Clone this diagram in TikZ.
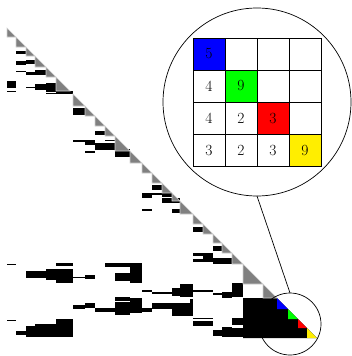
\documentclass[tikz,border=0pt]{standalone}
\usepackage{tikz}
\definecolor{ZoomYellow}{RGB}{255,238,0}

\begin{document}
\begin{tikzpicture}[x=1pt, y=-1pt,
    blk/.style={fill=black},
    diag/.style={fill=gray, draw=gray!35, line width=0.6pt},
    cell/.style={draw, line width=0.7pt, minimum size=32pt, inner sep=0pt,
                 font=\fontsize{15.5}{18}\selectfont},
    lens/.style={circle, draw, line width=0.7pt, inner sep=0pt, outer sep=0pt}]
  \useasboundingbox (0,0) rectangle (351,356);
  % Off-diagonal blocks
  \foreach \xa/\xb/\ya/\yb in {16/26/51/54, 16/26/61/65, 26/35/60/64, 16/26/71/72,
      26/35/72/75, 35/46/70/75, 7/16/81/88, 7/16/91/92, 26/35/87/88, 35/46/84/90,
      46/56/83/92, 46/56/93/94, 56/73/91/94, 73/85/108/115,
      95/105/131/135, 105/115/140/141, 73/95/140/142, 85/95/141/145, 95/115/143/150,
      85/95/151/153, 115/130/149/157,
      152/162/185/190, 142/172/193/195, 162/172/192/197, 142/152/195/198,
      162/180/198/203, 142/152/209/211, 172/188/209/213,
      193/203/227/232, 213/222/246/251,
      193/213/253/256, 203/213/253/262, 193/203/259/262, 213/232/258/264,
      7/16/264/265, 56/73/263/266, 26/46/271/278, 46/56/269/280, 56/73/269/283,
      73/85/277/278, 85/95/275/279,
      105/142/263/267, 115/130/273/281, 130/142/267/283,
      142/152/290/292, 152/172/292/294, 172/180/288/296, 180/193/284/297,
      193/213/290/292, 213/222/293/295, 222/232/292/298, 232/243/283/297,
      115/130/297/301, 130/142/298/313, 73/85/305/309, 85/95/303/308,
      95/115/308/312, 115/130/302/315, 142/152/308/312,
      152/172/303/309, 172/193/303/316, 190/193/299/303,
      193/213/318/319, 193/213/321/326, 213/232/330/336, 222/232/327/336,
      232/243/318/325, 222/243/328/337,
      7/16/320/321, 16/26/331/335, 26/35/326/337, 35/56/324/337, 56/73/319/337}
    \fill[blk] (\xa,\ya) rectangle (\xb,\yb);
  % Diagonal blocks
  \begin{scope}[shift={(0,21)}]
    \fill[blk] (243,277) -- (277,277) -- (317,317) -- (243,317) -- cycle;
    \foreach \a/\b in {7/16, 16/26, 26/35, 35/46, 46/56, 56/70, 73/85, 85/95,
        95/105, 105/115, 115/130, 130/142, 142/152, 152/162, 162/172, 172/180,
        180/193, 193/203, 203/213, 213/222, 222/232, 232/243, 243/263, 263/277}
      \filldraw[diag] (\a,\a) -- (\a,\b) -- (\b,\b) -- cycle;
    \foreach \a/\b/\col in {277/288/blue, 288/298/green, 298/307/red, 307/317/ZoomYellow}
      \fill[\col] (\a,\a) -- (\a,\b) -- (\b,\b) -- cycle;
  \end{scope}
  % Zoom lenses
  \node[lens, minimum size=188pt] (lensbig) at (257,102) {};
  \node[lens, minimum size=62pt] (lenssmall) at (290,324) {};
  \draw[line width=0.7pt] (lensbig.south) -- (lenssmall.north);
  % Zoomed supernode
  \foreach \r/\c/\v/\col in {1/1/5/blue, 1/2//white, 1/3//white, 1/4//white,
      2/1/4/white, 2/2/9/green, 2/3//white, 2/4//white,
      3/1/4/white, 3/2/2/white, 3/3/3/red, 3/4//white,
      4/1/3/white, 4/2/2/white, 4/3/3/white, 4/4/9/ZoomYellow}
    \node[cell, fill=\col] (cell-\r-\c) at ({193+32*\c-16},{38+32*\r-16}) {\v};
\end{tikzpicture}
\end{document}
